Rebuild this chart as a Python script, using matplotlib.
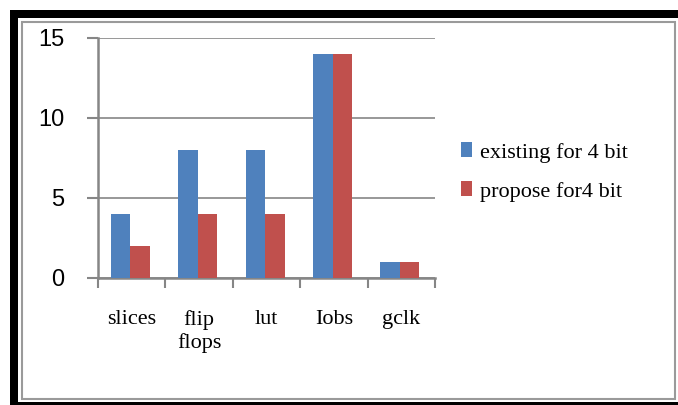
import matplotlib
matplotlib.use("Agg")
import matplotlib.pyplot as plt
from matplotlib.patches import Rectangle
import numpy as np

categories = ["slices", "flip\nflops", "lut", "Iobs", "gclk"]
existing = [4, 8, 8, 14, 1]
proposed = [2, 4, 4, 14, 1]
series_names = ["existing for 4 bit", "propose for4 bit"]
yticks = [0, 5, 10, 15]

BLUE = "#4F81BD"
RED = "#C0504D"
GRID = "#868686"
W, H = 678, 405

fig = plt.figure(figsize=(W / 100, H / 100), dpi=100)

# page frame: black bands and the inner grey border
for x0, y0, w, h, c in [(10, 10, 668, 8, "black"), (10, 10, 8, 395, "black"),
                        (10, 402, 668, 3, "black")]:
    fig.patches.append(Rectangle((x0 / W, 1 - (y0 + h) / H), w / W, h / H,
                                 transform=fig.transFigure, color=c, lw=0))
fig.patches.append(Rectangle((22 / W, 1 - 399 / H), 653 / W, 377 / H,
                             transform=fig.transFigure, fill=False,
                             edgecolor="#9a9a9a", lw=1.5))

ax = fig.add_axes([98 / W, 1 - 278 / H, 337 / W, 240 / H])
x = np.arange(len(categories))
width = 0.29
b1 = ax.bar(x - 0.165, existing, width, color=BLUE, zorder=3, label=series_names[0])
b2 = ax.bar(x + 0.125, proposed, width, color=RED, zorder=3, label=series_names[1])

ax.set_xlim(-0.5, len(categories) - 0.5)
ax.set_ylim(0, 15)
ax.set_yticks(yticks)
ax.set_yticklabels([str(v) for v in yticks], fontsize=17,
                   family="Liberation Sans")
ax.yaxis.grid(True, color=GRID, lw=1.2, zorder=0)
ax.tick_params(axis="y", length=8, width=1.5, color=GRID, pad=16)

ax.set_xticks(x)
ax.set_xticklabels(categories, fontsize=16, family="Liberation Serif",
                   linespacing=1.2, va="top")
ax.tick_params(axis="x", length=0, pad=23)
ax.set_xticks(np.arange(-0.5, len(categories), 1.0), minor=True)
ax.tick_params(axis="x", which="minor", length=7, width=1.5, color=GRID)

for s in ["top", "right"]:
    ax.spines[s].set_visible(False)
for s in ["left", "bottom"]:
    ax.spines[s].set_color(GRID)
    ax.spines[s].set_linewidth(1.8)

fig.legend(handles=[b1, b2], loc="center left",
           bbox_to_anchor=(441 / W, 1 - 172 / H), frameon=False,
           prop={"family": "Liberation Serif", "size": 16},
           handlelength=0.5, handleheight=0.65, handletextpad=0.35,
           labelspacing=0.85)

fig.savefig("out.png", dpi=100)
